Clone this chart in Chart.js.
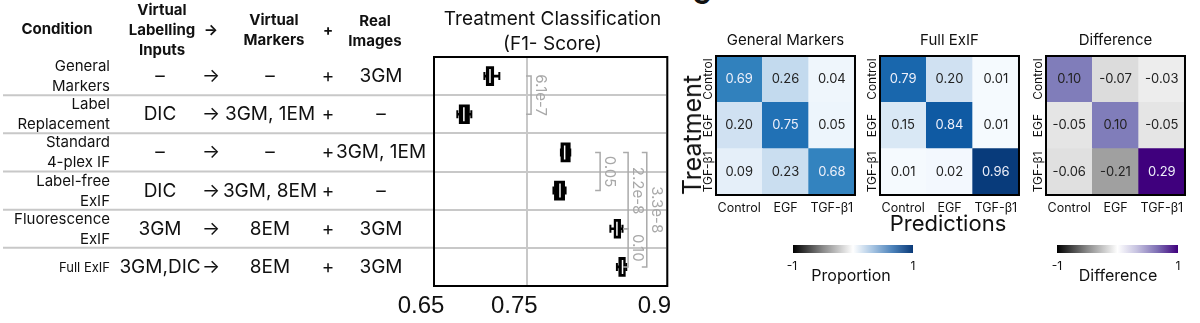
<!DOCTYPE html>
<html>
<head>
<meta charset="utf-8">
<title>Treatment classification</title>
<script src="https://cdn.jsdelivr.net/npm/chart.js@4.4.1/dist/chart.umd.min.js"></script>
<style>
  body { margin: 0; background: #fff; }
  #page { position: relative; width: 1200px; height: 323px; overflow: hidden; font-family: Inter, 'Noto Sans', sans-serif; color: #111; }
  #page canvas { position: absolute; }
  .c { position: absolute; transform: translate(-50%, -50%); white-space: nowrap; line-height: 1.2; text-align: center; }
  .hd { font-weight: 700; font-size: 15px; line-height: 20px; }
  .val { font-size: 19px; }
  .lab { position: absolute; left: 0; width: 110px; text-align: right; transform: translateY(-50%); font-size: 15px; line-height: 20px; white-space: pre; }
  .cbar { position: absolute; top: 245px; height: 8px; }
  .small { font-size: 12px; }
</style>
</head>
<body>
<div id="page">
  <canvas id="boxChart" width="690" height="323" style="left:0;top:0"></canvas>
  <canvas id="hm1" width="170" height="190" style="left:690px;top:30px"></canvas>
  <canvas id="hm2" width="170" height="190" style="left:854px;top:30px"></canvas>
  <canvas id="hm3" width="170" height="190" style="left:1020px;top:30px"></canvas>

  <!-- table header -->
  <div class="c hd" style="left:57px;top:29px">Condition</div>
  <div class="c hd" style="left:162px;top:30px">Virtual<br>Labelling<br>Inputs</div>
  <div class="c hd" style="left:211px;top:30px">→</div>
  <div class="c hd" style="left:274px;top:30px">Virtual<br>Markers</div>
  <div class="c hd" style="left:328px;top:30px">+</div>
  <div class="c hd" style="left:375px;top:31px">Real<br>Images</div>
  <div id="rows"></div>

  <!-- panel C labels -->
  <div style="position:absolute;left:692px;top:-18px;font-weight:700;font-size:26px;line-height:1">C</div>
  <div class="c" style="left:692px;top:135px;font-size:25px;transform:translate(-50%,-50%) rotate(-90deg)">Treatment</div>
  <div class="c" style="left:948px;top:223px;font-size:22px">Predictions</div>

  <!-- colour bars -->
  <div class="cbar" style="left:793px;width:120px;background:linear-gradient(to right,#000 0%,#8a8a8a 25%,#fff 50%,#a9c6e3 66%,#4c82ba 83%,#0a3a78 100%)"></div>
  <div class="c small" style="left:792px;top:266px">-1</div>
  <div class="c small" style="left:913px;top:266px">1</div>
  <div class="c" style="left:851px;top:276px;font-size:16px">Proportion</div>

  <div class="cbar" style="left:1057px;width:121px;background:linear-gradient(to right,#000 0%,#8a8a8a 25%,#fff 50%,#c6c2e0 66%,#7e6fb4 83%,#3f007d 100%)"></div>
  <div class="c small" style="left:1057px;top:266px">-1</div>
  <div class="c small" style="left:1178px;top:266px">1</div>
  <div class="c" style="left:1118px;top:276px;font-size:16px">Difference</div>
</div>

<script>
// Table rows
const conditions = ['General\nMarkers', 'Label\nReplacement', 'Standard\n4-plex IF', 'Label-free\nExIF', 'Fluorescence\nExIF', 'Full ExIF'];
const labellingInputs = ['–', 'DIC', '–', 'DIC', '3GM', '3GM,DIC'];
const virtualMarkers = ['–', '3GM, 1EM', '–', '3GM, 8EM', '8EM', '8EM'];
const realImages = ['3GM', '–', '3GM, 1EM', '–', '3GM', '3GM'];

// F1 score box statistics, one per condition
const whiskerLow  = [0.704, 0.675, 0.786, 0.778, 0.839, 0.846];
const q1          = [0.706, 0.677, 0.786, 0.779, 0.843, 0.848];
const median      = [0.710, 0.682, 0.790, 0.785, 0.846, 0.852];
const q3          = [0.714, 0.688, 0.796, 0.790, 0.850, 0.855];
const whiskerHigh = [0.720, 0.690, 0.796, 0.791, 0.852, 0.856];
const f1Ticks = [0.65, 0.75, 0.9];

// significance brackets
const pValues = ['6.1e-7', '0.05', '2.2e-8', '3.3e-8', '0.10'];
const pFrom = [0, 2, 2, 2, 4];
const pTo = [1, 3, 4, 5, 5];
const pAt = [0.754, 0.828, 0.858, 0.878, 0.858];

// confusion matrices (rows = treatment, cols = prediction)
const treatments = ['Control', 'EGF', 'TGF-β1'];
const predictions = ['Control', 'EGF', 'TGF-β1'];
const generalMarkers = [[0.69, 0.26, 0.04], [0.20, 0.75, 0.05], [0.09, 0.23, 0.68]];
const fullExif = [[0.79, 0.20, 0.01], [0.15, 0.84, 0.01], [0.01, 0.02, 0.96]];
const difference = [[0.10, -0.07, -0.03], [-0.05, 0.10, -0.05], [-0.06, -0.21, 0.29]];

Chart.defaults.font.family = 'Inter';
Chart.defaults.color = '#111';

const BLUES = ['#f7fbff', '#deebf7', '#c6dbef', '#9ecae1', '#6baed6', '#4292c6', '#2171b5', '#08519c', '#08306b'];
const PURPLES = ['#fcfbfd', '#efedf5', '#dadaeb', '#bcbddc', '#9e9ac8', '#807dba', '#6a51a3', '#54278f', '#3f007d'];

function hexRgb(h) {
    return [1, 3, 5].map(i => parseInt(h.substr(i, 2), 16));
}

function interp(stops, t) {
    t = Math.max(0, Math.min(1, t));
    const n = stops.length - 1;
    const i = Math.min(n - 1, Math.floor(t * n));
    const f = t * n - i;
    const a = hexRgb(stops[i]), b = hexRgb(stops[i + 1]);
    return a.map((v, k) => Math.round(v + (b[k] - v) * f));
}

function blues(v) {
    return interp(BLUES, v);
}

function diverging(v) {
    if (v >= 0) return interp(PURPLES, v / 0.16);
    const g = Math.round(250 - 430 * Math.abs(v));
    return [g, g, g];
}

function css(c) {
    return 'rgb(' + c.join(',') + ')';
}

function isDark(c) {
    return (0.299 * c[0] + 0.587 * c[1] + 0.114 * c[2]) / 255 < 0.5;
}

// black frame round the plot area
const framePlugin = {
    id: 'frame',
    afterDraw(chart) {
        const a = chart.chartArea;
        const ctx = chart.ctx;
        ctx.save();
        ctx.strokeStyle = '#000';
        ctx.lineWidth = 2;
        ctx.strokeRect(a.left, a.top, a.right - a.left, a.bottom - a.top);
        ctx.restore();
    }
};

// row separators continue left under the table
const tableLines = {
    id: 'tableLines',
    beforeDatasetsDraw(chart) {
        const ys = chart.scales.y;
        const ctx = chart.ctx;
        ctx.save();
        ctx.strokeStyle = '#c8c8c8';
        ctx.lineWidth = 2;
        for (let i = 0; i < conditions.length - 1; i++) {
            const y = (ys.getPixelForValue(i) + ys.getPixelForValue(i + 1)) / 2;
            ctx.beginPath();
            ctx.moveTo(3, y);
            ctx.lineTo(chart.chartArea.left, y);
            ctx.stroke();
        }
        ctx.restore();
    }
};

const brackets = {
    id: 'brackets',
    afterDatasetsDraw(chart) {
        const xs = chart.scales.x, ys = chart.scales.y;
        const ctx = chart.ctx;
        ctx.save();
        ctx.strokeStyle = '#aaaaaa';
        ctx.fillStyle = '#a8a8a8';
        ctx.lineWidth = 1.5;
        ctx.font = '15px Inter';
        pValues.forEach((p, k) => {
            const x = xs.getPixelForValue(pAt[k]);
            const y1 = ys.getPixelForValue(pFrom[k]);
            const y2 = ys.getPixelForValue(pTo[k]);
            ctx.beginPath();
            ctx.moveTo(x - 5, y1);
            ctx.lineTo(x, y1);
            ctx.lineTo(x, y2);
            ctx.lineTo(x - 5, y2);
            ctx.stroke();
            ctx.save();
            ctx.translate(x + 2, (y1 + y2) / 2);
            ctx.rotate(Math.PI / 2);
            ctx.textAlign = 'center';
            ctx.textBaseline = 'bottom';
            ctx.fillText(p, 0, 0);
            ctx.restore();
        });
        ctx.restore();
    }
};

const boxChart = new Chart(document.getElementById('boxChart'), {
    type: 'bar',
    data: {
        labels: conditions,
        datasets: [
            {
                label: 'whisker',
                data: conditions.map((c, i) => [whiskerLow[i], whiskerHigh[i]]),
                backgroundColor: '#000',
                barThickness: 2,
                grouped: false,
                order: 3
            },
            {
                label: 'box',
                data: conditions.map((c, i) => [q1[i], q3[i]]),
                backgroundColor: '#000',
                barThickness: 19,
                grouped: false,
                order: 2
            },
            {
                type: 'scatter',
                label: 'caps',
                data: conditions.flatMap((c, i) => [{ x: whiskerLow[i], y: c }, { x: whiskerHigh[i], y: c }]),
                pointStyle: 'line',
                rotation: 90,
                radius: 4,
                borderColor: '#000',
                borderWidth: 2,
                order: 1
            },
            {
                type: 'scatter',
                label: 'median',
                data: conditions.map((c, i) => ({ x: median[i], y: c })),
                pointStyle: 'line',
                rotation: 90,
                radius: 7,
                borderColor: '#fff',
                borderWidth: 1.5,
                order: 0
            }
        ]
    },
    options: {
        indexAxis: 'y',
        responsive: false,
        animation: false,
        layout: { padding: { left: 434, right: 19, top: 0, bottom: 0 } },
        plugins: {
            legend: { display: false },
            tooltip: { enabled: false },
            title: {
                display: true,
                text: ['Treatment Classification', '(F1- Score)'],
                font: { size: 19, weight: 'normal', lineHeight: 1.316 },
                color: '#111',
                padding: { top: 7, bottom: 0 }
            }
        },
        scales: {
            x: {
                type: 'linear',
                min: 0.65,
                max: 0.9,
                afterBuildTicks: s => { s.ticks = f1Ticks.map(v => ({ value: v })); },
                afterFit: s => { s.height = 37; },
                grid: { color: '#c8c8c8', lineWidth: 2, drawTicks: false },
                border: { display: false },
                ticks: {
                    font: { family: 'Liberation Sans', size: 24 },
                    color: '#111',
                    padding: 6,
                    labelOffset: -13,
                    callback: v => String(v)
                }
            },
            y: {
                afterFit: s => { s.width = 0; },
                ticks: { display: false },
                grid: { color: '#c8c8c8', lineWidth: 2, drawTicks: false },
                border: { display: false }
            }
        }
    },
    plugins: [tableLines, brackets, framePlugin]
});

// place the table text on the chart's rows
const rowsDiv = document.getElementById('rows');
const ys = boxChart.scales.y;
conditions.forEach((cond, i) => {
    const y = ys.getPixelForValue(i);
    const lab = document.createElement('div');
    lab.className = 'lab';
    lab.style.top = y + 'px';
    if (!cond.includes('\n')) lab.style.fontSize = '13px';
    lab.textContent = cond;
    rowsDiv.appendChild(lab);
    const cells = [[160, labellingInputs[i]], [211, '→'], [270, virtualMarkers[i]], [328, '+'], [381, realImages[i]]];
    cells.forEach(([x, txt]) => {
        const d = document.createElement('div');
        d.className = 'c val';
        d.style.left = x + 'px';
        d.style.top = y + 'px';
        d.textContent = txt;
        rowsDiv.appendChild(d);
    });
});

// values printed in each heatmap cell
const cellText = {
    id: 'cellText',
    afterDatasetsDraw(chart, args, opts) {
        const ctx = chart.ctx;
        ctx.save();
        ctx.font = '13px Inter';
        ctx.textAlign = 'center';
        ctx.textBaseline = 'middle';
        chart.data.datasets.forEach((ds, d) => {
            chart.getDatasetMeta(d).data.forEach((bar, j) => {
                const v = ds.values[j];
                ctx.fillStyle = isDark(opts.colorFn(v)) ? '#eef0fa' : '#222';
                ctx.fillText(v.toFixed(2), bar.x, (bar.y + bar.base) / 2);
            });
        });
        ctx.restore();
    }
};

function heatmap(id, title, matrix, colorFn) {
    // stack rows bottom-up so the first treatment sits on top
    const order = treatments.map((t, i) => i).reverse();
    return new Chart(document.getElementById(id), {
        type: 'bar',
        data: {
            labels: predictions,
            datasets: order.map(r => ({
                label: treatments[r],
                data: predictions.map(() => 1),
                values: matrix[r],
                backgroundColor: matrix[r].map(v => css(colorFn(v))),
                borderWidth: 0,
                barPercentage: 1,
                categoryPercentage: 1
            }))
        },
        options: {
            responsive: false,
            animation: false,
            layout: { padding: { left: 0, right: 5, top: 0, bottom: 5 } },
            plugins: {
                legend: { display: false },
                tooltip: { enabled: false },
                title: {
                    display: true,
                    text: title,
                    fullSize: false,
                    font: { size: 15, weight: 'normal' },
                    color: '#111',
                    padding: { top: 1, bottom: 7 }
                },
                cellText: { colorFn: colorFn }
            },
            scales: {
                x: {
                    stacked: true,
                    afterFit: s => { s.height = 20; },
                    grid: { display: false, drawTicks: false },
                    border: { display: false },
                    ticks: { font: { size: 12.5 }, color: '#111', padding: 6, maxRotation: 0, autoSkip: false }
                },
                y: {
                    stacked: true,
                    min: 0,
                    max: 3,
                    afterBuildTicks: s => { s.ticks = [0.5, 1.5, 2.5].map(v => ({ value: v })); },
                    afterFit: s => { s.width = 26; },
                    grid: { display: false, drawTicks: false },
                    border: { display: false },
                    ticks: {
                        callback: v => treatments[treatments.length - 1 - Math.floor(v)],
                        minRotation: 90,
                        maxRotation: 90,
                        crossAlign: 'center',
                        padding: -13,
                        autoSkip: false,
                        font: { size: 12 },
                        color: '#111'
                    }
                }
            }
        },
        plugins: [cellText, framePlugin]
    });
}

heatmap('hm1', 'General Markers', generalMarkers, blues);
heatmap('hm2', 'Full ExIF', fullExif, blues);
heatmap('hm3', 'Difference', difference, diverging);
</script>
</body>
</html>
